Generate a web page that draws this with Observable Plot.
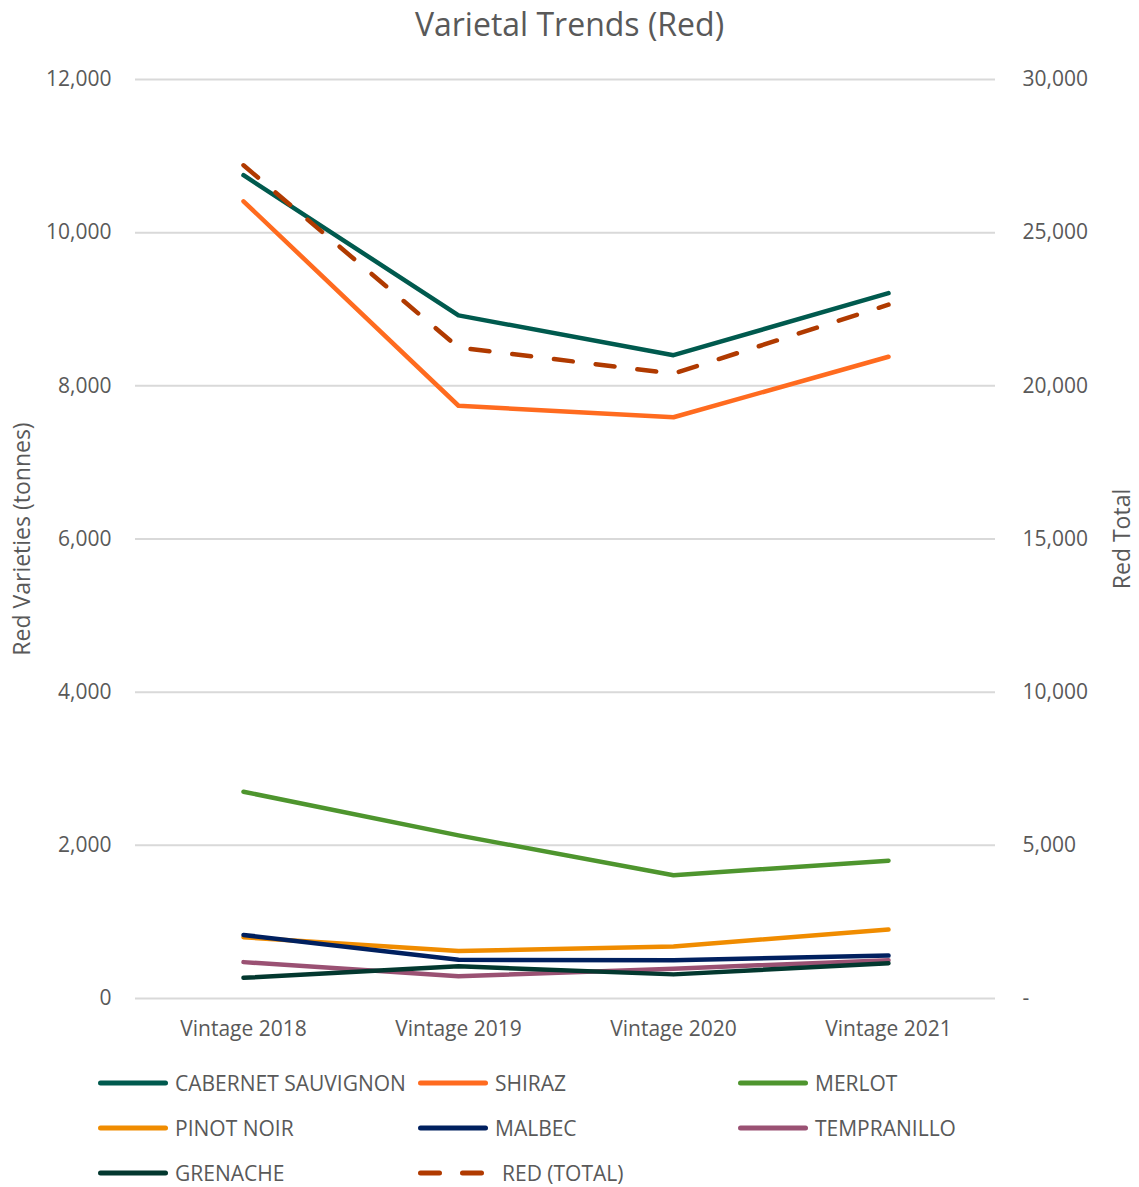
<!DOCTYPE html>
<html>
<head>
<meta charset="utf-8">
<script src="https://cdn.jsdelivr.net/npm/d3@7"></script>
<script src="https://cdn.jsdelivr.net/npm/@observablehq/plot@0.6"></script>
<style>
  body { margin: 0; background: #fff; font-family: "Open Sans", sans-serif; color: #595959; }
  #title { height: 50px; line-height: 48px; text-align: center; font-size: 32px; width: 1139px; }
  #legend { position: relative; width: 1139px; height: 132px; }
  .item { position: absolute; display: flex; align-items: center; font-size: 21px; height: 30px; }
</style>
</head>
<body>
<div id="title">Varietal Trends (Red)</div>
<div id="chart"></div>
<div id="legend"></div>
<script>
const vintages = ["Vintage 2018", "Vintage 2019", "Vintage 2020", "Vintage 2021"];
const seriesNames = ["CABERNET SAUVIGNON", "SHIRAZ", "MERLOT", "PINOT NOIR", "MALBEC", "TEMPRANILLO", "GRENACHE"];
const seriesColors = ["#005a4e", "#ff6b1f", "#4e952e", "#f08c00", "#00205f", "#9a5173", "#03382f"];
const cabernetSauvignon = [10750, 8920, 8400, 9210];
const shiraz = [10410, 7740, 7590, 8380];
const merlot = [2700, 2130, 1610, 1800];
const pinotNoir = [800, 620, 680, 900];
const malbec = [830, 505, 500, 560];
const tempranillo = [475, 290, 390, 500];
const grenache = [270, 420, 315, 460];
const redTotalName = "RED (TOTAL)";
const redTotalColor = "#b03a00";
const redTotal = [27200, 21250, 20400, 22650];
const leftTicks = [0, 2000, 4000, 6000, 8000, 10000, 12000];
const rightTicks = [0, 5000, 10000, 15000, 20000, 25000, 30000];

const seriesValues = [cabernetSauvignon, shiraz, merlot, pinotNoir, malbec, tempranillo, grenache];
const rows = [];
seriesNames.forEach((name, i) => {
  vintages.forEach((v, j) => rows.push({series: name, vintage: v, value: seriesValues[i][j]}));
});
const totalRows = vintages.map((v, j) => ({vintage: v, value: redTotal[j]}));
const ratio = rightTicks[rightTicks.length - 1] / leftTicks[leftTicks.length - 1];
const fmt = d3.format(",");

const chart = Plot.plot({
  width: 1139,
  height: 1005,
  marginTop: 29,
  marginBottom: 57,
  marginLeft: 135,
  marginRight: 144,
  style: {fontFamily: "Open Sans, sans-serif", fontSize: "21px", color: "#595959", background: "white", overflow: "visible"},
  x: {type: "point", domain: vintages, padding: 0.5, label: null},
  y: {domain: [0, 12000], label: null},
  color: {domain: seriesNames, range: seriesColors},
  marks: [
    Plot.gridY(leftTicks, {stroke: "#d9d9d9", strokeOpacity: 1, strokeWidth: 2}),
    Plot.axisY(leftTicks, {anchor: "left", tickSize: 0, tickPadding: 24, tickFormat: d => fmt(d), label: null, fill: "#595959"}),
    Plot.axisY(leftTicks, {anchor: "right", tickSize: 0, tickPadding: 27, tickFormat: d => d === 0 ? "-" : fmt(d * ratio), label: null, fill: "#595959"}),
    Plot.axisX({tickSize: 0, tickPadding: 23, label: null, fill: "#595959"}),
    Plot.text(["Red Varieties (tonnes)"], {frameAnchor: "left", textAnchor: "middle", dx: -113, rotate: -90, fontSize: 23, fill: "#595959"}),
    Plot.text(["Red Total"], {frameAnchor: "right", textAnchor: "middle", dx: 127, rotate: -90, fontSize: 23, fill: "#595959"}),
    Plot.line(rows, {x: "vintage", y: "value", z: "series", stroke: "series", strokeWidth: 4.5, strokeLinecap: "round", strokeLinejoin: "round"}),
    Plot.line(totalRows, {x: "vintage", y: d => d.value / ratio, stroke: redTotalColor, strokeWidth: 4.5, strokeDasharray: "19,23", strokeLinecap: "round"})
  ]
});
document.getElementById("chart").appendChild(chart);

// Legend
const legendItems = seriesNames.map((n, i) => ({name: n, color: seriesColors[i], dash: null}));
legendItems.push({name: redTotalName, color: redTotalColor, dash: "19,23"});
const legend = document.getElementById("legend");
const colX = [98, 418, 738];
const rowY = [13, 58, 103];
legendItems.forEach((it, i) => {
  const div = document.createElement("div");
  div.className = "item";
  div.style.left = colX[i % 3] + "px";
  div.style.top = rowY[Math.floor(i / 3)] + "px";
  const dashAttr = it.dash ? `stroke-dasharray="${it.dash}"` : "";
  const gap = it.dash ? 14 : 7;
  div.innerHTML = `<svg width="70" height="10" style="margin-right:${gap}px"><line x1="2.5" y1="5" x2="67.5" y2="5" stroke="${it.color}" stroke-width="5" stroke-linecap="round" ${dashAttr}/></svg><span>${it.name}</span>`;
  legend.appendChild(div);
});
</script>
</body>
</html>
